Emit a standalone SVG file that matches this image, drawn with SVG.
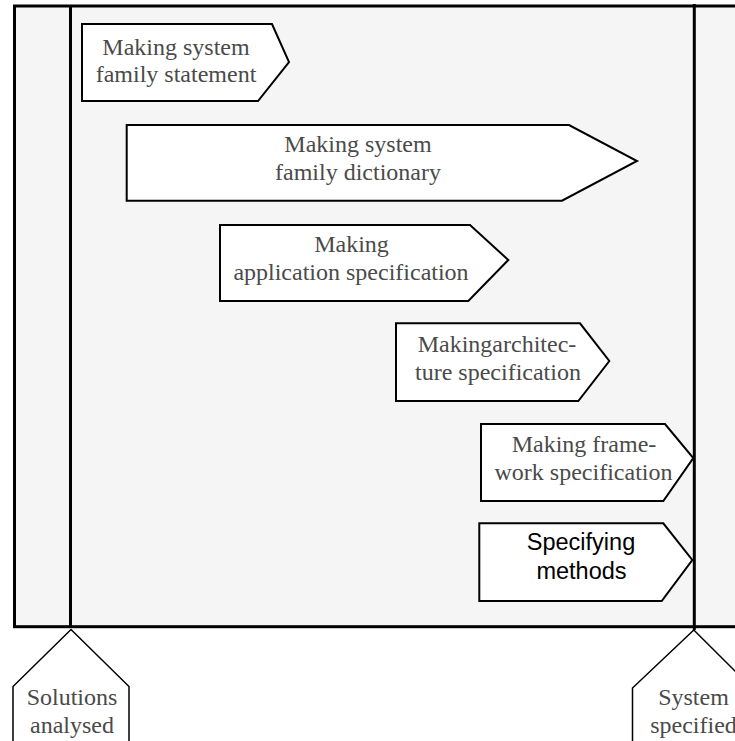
<svg xmlns="http://www.w3.org/2000/svg" width="735" height="741" viewBox="0 0 735 741">
  <style>
    .frame { fill: #f5f5f5; stroke: #000; stroke-width: 3; }
    .bar { stroke: #000; stroke-width: 3; fill: none; }
    .step { fill: #fff; stroke: #000; stroke-width: 2; stroke-linejoin: miter; }
    .mark { fill: #fff; stroke: #000; stroke-width: 1.5; }
    .serif { font-family: "Liberation Serif", "Times New Roman", serif; font-size: 24px; fill: #4a4a4a; text-anchor: middle; }
    .sans { font-family: "Liberation Sans", Arial, sans-serif; font-size: 23.5px; fill: #000; text-anchor: middle; }
  </style>

  <rect x="0" y="0" width="735" height="741" fill="#fff"/>

  <!-- phase frame -->
  <g id="frame">
    <rect class="frame" x="14.5" y="6" width="740" height="620.7"/>
  </g>

  <!-- milestone bars -->
  <g id="connectors">
    <line class="bar" x1="70.5" y1="6" x2="70.5" y2="627"/>
    <line class="bar" x1="694.3" y1="4" x2="694.3" y2="630"/>
  </g>

  <g id="step-statement">
    <polygon class="step" points="82,24 272,24 289,62 258,101 82,101"/>
    <text class="serif" x="176" y="54.5">Making system</text>
    <text class="serif" x="176" y="81.5">family statement</text>
  </g>

  <g id="step-dictionary">
    <polygon class="step" points="126.7,125 569,125 637,161 562,200.7 126.7,200.7"/>
    <text class="serif" x="358" y="152">Making system</text>
    <text class="serif" x="358" y="180">family dictionary</text>
  </g>

  <g id="step-application">
    <polygon class="step" points="220,225 470,225 508.3,260 468.3,301 220,301"/>
    <text class="serif" x="351.5" y="252">Making</text>
    <text class="serif" x="351" y="280">application specification</text>
  </g>

  <g id="step-architecture">
    <polygon class="step" points="396,323.3 580,323.3 609.3,361 578.3,401 396,401"/>
    <text class="serif" x="497" y="352">Makingarchitec-</text>
    <text class="serif" x="498" y="380">ture specification</text>
  </g>

  <g id="step-framework">
    <polygon class="step" points="481,424 665,424 693.3,458 663.3,501 481,501"/>
    <text class="serif" x="584" y="452">Making frame-</text>
    <text class="serif" x="583.5" y="480">work specification</text>
  </g>

  <g id="step-methods">
    <polygon class="step" points="479.3,523.3 663.3,523.3 692.3,560 661.7,601 479.3,601"/>
    <text class="sans" x="581" y="550">Specifying</text>
    <text class="sans" x="581.5" y="578.5">methods</text>
  </g>

  <g id="milestone-solutions">
    <polygon class="mark" points="71,629.5 129,686.5 129,745 13,745 13,686.5"/>
    <text class="serif" x="72" y="705">Solutions</text>
    <text class="serif" x="72" y="733">analysed</text>
  </g>

  <g id="milestone-system">
    <polygon class="mark" points="693.8,630 752,688 752,745 632.5,745 632.5,688"/>
    <text class="serif" x="693.5" y="705">System</text>
    <text class="serif" x="693.5" y="733">specified</text>
  </g>
</svg>
